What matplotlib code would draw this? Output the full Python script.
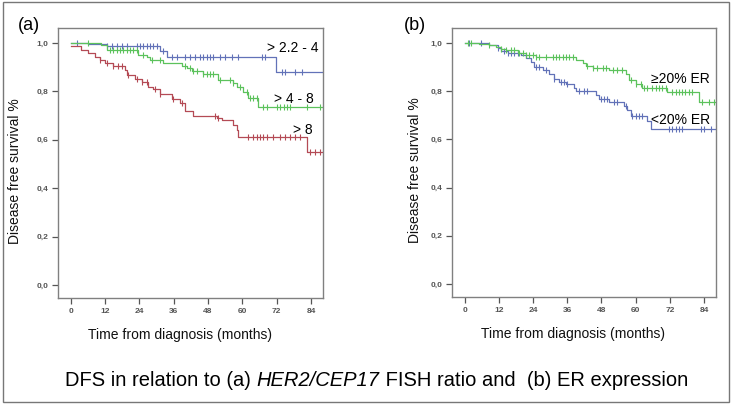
import numpy as np
import matplotlib
matplotlib.use("Agg")
import matplotlib.pyplot as plt
from matplotlib.patches import Rectangle

# ---------------- data (a): HER2/CEP17 FISH ratio ----------------
a_blue_t = [0, 6.2, 12.6, 31.2, 33.6, 71.8, 88.3]
a_blue_s = [1.0, 0.994, 0.988, 0.968, 0.943, 0.881, 0.881]
a_blue_c = [2.1, 12.6, 14.3, 16.1, 17.8, 19.6, 23.1, 24.2, 25.4, 26.6, 27.7, 28.9, 30.1,
            32.4, 35.3, 37.1, 40.0, 41.7, 43.5, 45.2, 46.4, 47.6, 48.7, 49.9, 52.2, 54.0,
            56.3, 58.6, 66.8, 68.0, 73.8, 75.0, 78.5, 80.8]

a_green_t = [0, 10.8, 12.6, 23.7, 26.6, 27.7, 32.4, 38.8, 40.6, 42.3, 46.4, 51.6, 56.9,
             58.1, 60.4, 62.1, 65.6, 88.3]
a_green_s = [1.0, 0.99, 0.971, 0.95, 0.942, 0.93, 0.916, 0.905, 0.895, 0.886, 0.872,
             0.847, 0.833, 0.817, 0.799, 0.771, 0.734, 0.734]
a_green_c = [6.2, 13.7, 14.9, 16.1, 17.3, 18.4, 19.6, 20.8, 21.9, 23.1, 25.4, 28.3, 31.2,
             40.0, 41.7, 42.9, 44.1, 46.4, 47.6, 48.7, 49.9, 52.2, 55.7, 56.9, 59.2, 61.6,
             62.7, 63.9, 65.1, 67.4, 68.6, 72.0, 73.2, 74.4, 75.5, 76.7, 82.5, 87.2]

a_red_t = [0, 3.8, 6.2, 8.5, 10.3, 12.0, 14.9, 19.0, 19.6, 22.5, 24.8, 27.1, 28.9, 31.2,
           35.3, 38.2, 40.0, 42.9, 51.1, 52.8, 56.9, 58.1, 58.6, 82.6, 88.3]
a_red_s = [0.988, 0.971, 0.96, 0.943, 0.93, 0.916, 0.905, 0.888, 0.868, 0.85, 0.84, 0.82,
           0.81, 0.79, 0.77, 0.75, 0.72, 0.70, 0.69, 0.68, 0.66, 0.64, 0.61, 0.551, 0.551]
a_red_c = [10.3, 12.6, 14.9, 16.7, 17.8, 20.2, 23.1, 24.8, 26.6, 29.5, 31.2, 35.9, 38.8,
           50.5, 51.6, 62.1, 63.9, 65.1, 66.2, 67.4, 68.6, 70.9, 73.2, 75.0, 76.7, 78.5,
           80.2, 83.7, 85.5, 87.2]

# ---------------- data (b): ER expression ----------------
b_green_t = [0, 5.2, 8.7, 11.1, 12.8, 14.6, 18.7, 21.6, 25.1, 39.0, 41.4, 42.5, 44.9,
             50.7, 56.5, 57.7, 60.0, 62.4, 71.1, 82.2, 88.0]
b_green_s = [1.0, 0.996, 0.99, 0.985, 0.975, 0.969, 0.96, 0.952, 0.94, 0.929, 0.915,
             0.905, 0.894, 0.887, 0.873, 0.848, 0.831, 0.814, 0.795, 0.756, 0.756]
b_green_c = [1.2, 2.3, 8.7, 12.8, 14.6, 16.3, 17.5, 19.2, 20.4, 21.6, 22.7, 23.9, 25.1,
             26.2, 28.6, 30.9, 32.1, 33.2, 34.4, 35.6, 36.7, 37.9, 43.1, 44.9, 46.6, 48.4,
             49.6, 51.9, 53.6, 55.4, 58.3, 60.0, 61.8, 62.9, 64.1, 65.9, 67.0, 68.2, 69.4,
             70.5, 72.9, 74.0, 75.2, 76.4, 77.5, 78.7, 79.9, 83.4, 85.7, 87.4]

b_blue_t = [0, 8.7, 11.7, 12.8, 15.2, 19.8, 21.6, 23.3, 24.5, 27.4, 29.7, 31.5, 33.2,
            35.6, 38.5, 39.0, 46.0, 47.2, 50.7, 56.0, 57.1, 58.3, 64.1, 65.3, 88.0]
b_blue_s = [1.0, 0.993, 0.979, 0.965, 0.958, 0.951, 0.937, 0.923, 0.902, 0.888, 0.873,
            0.852, 0.838, 0.831, 0.814, 0.80, 0.782, 0.768, 0.754, 0.74, 0.72, 0.695,
            0.676, 0.643, 0.643]
b_blue_c = [1.7, 5.8, 11.7, 14.0, 15.2, 16.3, 17.5, 18.7, 25.1, 26.2, 28.6, 31.5, 33.8,
            35.0, 36.1, 40.2, 42.0, 43.1, 47.8, 49.0, 50.1, 52.5, 53.6, 56.5, 58.9, 60.0,
            61.2, 62.4, 71.7, 72.9, 74.0, 75.2, 76.4, 82.8, 84.0, 86.3]

x_ticks = [0, 12, 24, 36, 48, 60, 72, 84]
y_ticks = [0.0, 0.2, 0.4, 0.6, 0.8, 1.0]
y_tick_labels = ["0,0", "0,2", "0,4", "0,6", "0,8", "1,0"]

caption_parts = [("DFS in relation to (a) ", "normal"),
                 ("HER2/CEP17", "italic"),
                 (" FISH ratio and  (b) ER expression", "normal")]

BLUE = "#6272b8"
GREEN = "#5cc25c"
RED = "#b44a55"

plt.rcParams['font.family'] = ['Liberation Sans', 'DejaVu Sans']

fig = plt.figure(figsize=(7.33, 4.04), dpi=100)
fig.patches.append(Rectangle((0.004, 0.004), 0.991, 0.991, transform=fig.transFigure,
                             fill=False, edgecolor="#777777", lw=1.0))


def km(ax, t, s, c, color):
    ax.step(t, s, where="post", color=color, lw=0.9)
    t_arr = np.asarray(t)
    s_arr = np.asarray(s)
    idx = np.searchsorted(t_arr, np.asarray(c), side="right") - 1
    ax.plot(c, s_arr[idx], linestyle="none", marker="|", markersize=5,
            markeredgewidth=0.8, color=color)


def style(ax, ylab_x):
    ax.set_xlim(-4.4, 88.2)
    ax.set_ylim(-0.054, 1.062)
    ax.set_xticks(x_ticks)
    ax.set_xticklabels([str(v) for v in x_ticks])
    ax.set_yticks(y_ticks)
    ax.set_yticklabels(y_tick_labels)
    for sp in ax.spines.values():
        sp.set_color("#808080")
        sp.set_linewidth(1.0)
    ax.tick_params(direction="out", length=4, width=0.9, color="#555555",
                   labelsize=6, labelcolor="#555555", pad=3)
    for lab in ax.get_xticklabels() + ax.get_yticklabels():
        lab.set_fontweight("bold")
    ax.set_ylabel("Disease free survival %", fontsize=10, color="#111111")
    ax.yaxis.set_label_coords(ylab_x, 0.47)
    ax.set_xlabel("Time from diagnosis (months)", fontsize=10, color="#111111")
    ax.xaxis.set_label_coords(0.46, -0.11)


ax1 = fig.add_axes([58 / 733, 1 - 298 / 404, 265 / 733, 270 / 404])
km(ax1, a_blue_t, a_blue_s, a_blue_c, BLUE)
km(ax1, a_green_t, a_green_s, a_green_c, GREEN)
km(ax1, a_red_t, a_red_s, a_red_c, RED)
style(ax1, -0.135)
ax1.text(86.5, 0.98, "> 2.2 - 4", fontsize=10, ha="right", va="center")
ax1.text(84.9, 0.77, "> 4 - 8", fontsize=10, ha="right", va="center")
ax1.text(84.5, 0.64, "> 8", fontsize=10, ha="right", va="center")

ax2 = fig.add_axes([452 / 733, 1 - 297 / 404, 264 / 733, 269 / 404])
km(ax2, b_blue_t, b_blue_s, b_blue_c, BLUE)
km(ax2, b_green_t, b_green_s, b_green_c, GREEN)
style(ax2, -0.115)
ax2.text(86.1, 0.852, "≥20% ER", fontsize=10, ha="right", va="center")
ax2.text(86.1, 0.681, "<20% ER", fontsize=10, ha="right", va="center")

fig.text(29 / 733, 1 - 25 / 404, "(a)", fontsize=13, ha="center", va="center")
fig.text(415 / 733, 1 - 25 / 404, "(b)", fontsize=13, ha="center", va="center")

# caption drawn piece by piece so the italic part can use the italic face
renderer = fig.canvas.get_renderer()
pieces = []
for txt, st in caption_parts:
    pieces.append(fig.text(0, 1 - 381 / 404, txt, fontsize=14.5, style=st,
                           ha="left", va="center"))
widths = [p.get_window_extent(renderer).width for p in pieces]
total = sum(widths)
x0 = 376.5 - total / 2.0
for p, w in zip(pieces, widths):
    p.set_x(x0 / 733)
    x0 += w

fig.savefig("out.png", dpi=100)
